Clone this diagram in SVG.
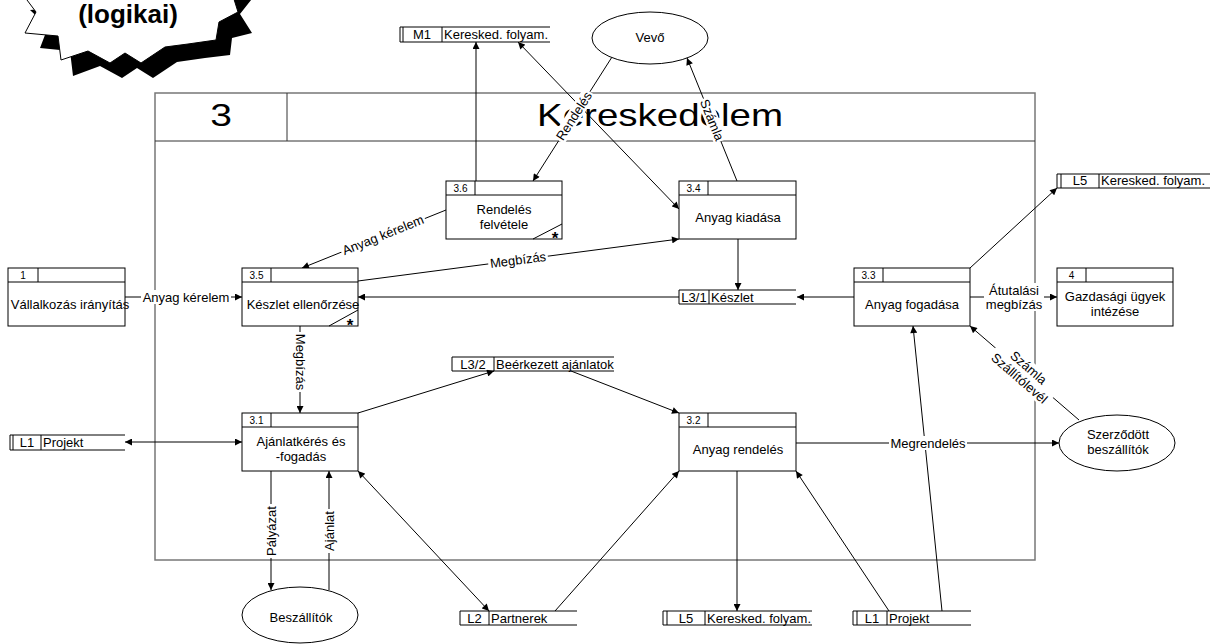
<svg xmlns="http://www.w3.org/2000/svg" width="1216" height="644" viewBox="0 0 1216 644">
  <style>
    .box{fill:#fff;stroke:#000;stroke-width:1}
    .ln{fill:none;stroke:#000;stroke-width:1}
    .fr{fill:none;stroke:#777;stroke-width:1.5}
    .t{font-family:"Liberation Sans",Arial,sans-serif;font-size:13px;fill:#000}
    .n{font-family:"Liberation Sans",Arial,sans-serif;font-size:10px;fill:#000}
    .ast{font-family:"Liberation Sans",Arial,sans-serif;font-size:17px;font-weight:bold;fill:#000}
    .c{text-anchor:middle}
    .bg{fill:#fff}
  </style>
  <defs>
    <marker id="ah" viewBox="0 0 10 10" refX="10" refY="5" markerWidth="8" markerHeight="7" markerUnits="userSpaceOnUse" orient="auto-start-reverse">
      <path d="M0,0 L10,5 L0,10 z" fill="#000"/>
    </marker>
  </defs>
  <rect width="1216" height="644" fill="#fff"/>

  <!-- starburst badge with drop shadow -->
  <g id="logikai">
    <polygon fill="#000" points="30,10 48,27 40,48 70,51 73,76 100,66 122,78 137,68 153,78 177,62 205,58 230,55 232,38 252,33 240,14 255,-5 225,-5"/>
    <polygon fill="#fff" stroke="#000" stroke-width="1" points="12,-20 36,12 25,33 58,36 61,60 88,51 110,63 125,53 141,63 165,47 188,44 216,40 219,22 238,12 228,-20"/>
    <text x="128" y="23" class="c" font-family="Liberation Sans,Arial,sans-serif" font-size="26" font-weight="bold">(logikai)</text>
  </g>

  <!-- process frame 3 -->
  <g id="frame">
    <rect x="155" y="93" width="880" height="467" class="fr"/>
    <path d="M155,141 H1035 M287,93 V141" stroke="#333" stroke-width="1" fill="none"/>
    <text transform="translate(221,126) scale(1.22,1)" class="c" font-family="Liberation Sans,Arial,sans-serif" font-size="32">3</text>
    <text x="537" y="126" textLength="246" lengthAdjust="spacingAndGlyphs" font-family="Liberation Sans,Arial,sans-serif" font-size="32">Kereskedelem</text>
  </g>

  <!-- data flows -->
  <g id="connectors">
    <path class="ln" d="M476,181 V42" marker-end="url(#ah)"/>
    <path class="ln" d="M518,42 L679,209" marker-start="url(#ah)" marker-end="url(#ah)"/>
    <path class="ln" d="M612,57 L533,181" marker-end="url(#ah)"/>
    <path class="ln" d="M737,181 L687,58" marker-end="url(#ah)"/>
    <path class="ln" d="M446,210 L302,268" marker-end="url(#ah)"/>
    <path class="ln" d="M358,281 L679,239" marker-end="url(#ah)"/>
    <path class="ln" d="M125,297 H242" marker-end="url(#ah)"/>
    <path class="ln" d="M679,297 H358" marker-end="url(#ah)"/>
    <path class="ln" d="M738,239 V290" marker-end="url(#ah)"/>
    <path class="ln" d="M854,297 H797" marker-end="url(#ah)"/>
    <path class="ln" d="M970,268 L1057,188" marker-end="url(#ah)"/>
    <path class="ln" d="M970,297 H1057" marker-end="url(#ah)"/>
    <path class="ln" d="M1079,420 L970,326" marker-end="url(#ah)"/>
    <path class="ln" d="M796,443 H1059" marker-end="url(#ah)"/>
    <path class="ln" d="M300,326 V413" marker-end="url(#ah)"/>
    <path class="ln" d="M358,413 L494,371" marker-end="url(#ah)"/>
    <path class="ln" d="M571,371 L679,413" marker-end="url(#ah)"/>
    <path class="ln" d="M125,442 H242" marker-start="url(#ah)" marker-end="url(#ah)"/>
    <path class="ln" d="M271,471 V590" marker-end="url(#ah)"/>
    <path class="ln" d="M329,590 V471" marker-end="url(#ah)"/>
    <path class="ln" d="M358,471 L489,611" marker-start="url(#ah)" marker-end="url(#ah)"/>
    <path class="ln" d="M555,611 L679,471" marker-end="url(#ah)"/>
    <path class="ln" d="M737,471 V611" marker-end="url(#ah)"/>
    <path class="ln" d="M889,611 L796,471" marker-end="url(#ah)"/>
    <path class="ln" d="M942,611 L913,326" marker-end="url(#ah)"/>

    <!-- flow labels -->
    <g transform="translate(574,116) rotate(-57.3)"><rect class="bg" x="-29" y="-7" width="58" height="14"/><text class="t c" y="4.5">Rendelés</text></g>
    <g transform="translate(712,120) rotate(67.9)"><rect class="bg" x="-23" y="-7" width="46" height="14"/><text class="t c" y="4.5">Számla</text></g>
    <g transform="translate(383,235) rotate(-21.9)"><rect class="bg" x="-45" y="-7" width="90" height="14"/><text class="t c" y="4.5">Anyag kérelem</text></g>
    <g transform="translate(518,260) rotate(-7.45)"><rect class="bg" x="-30" y="-7" width="60" height="14"/><text class="t c" y="4.5">Megbízás</text></g>
    <g transform="translate(186,297)"><rect class="bg" x="-45" y="-7" width="90" height="14"/><text class="t c" y="4.5">Anyag kérelem</text></g>
    <g transform="translate(1014,297)"><rect class="bg" x="-30" y="-14" width="60" height="28"/><text class="t c" y="-2">Átutalási</text><text class="t c" y="12">megbízás</text></g>
    <g transform="translate(1024,373) rotate(40.8)"><rect class="bg" x="-38" y="-14" width="76" height="28"/><text class="t c" y="-2.5">Számla</text><text class="t c" y="11.5">Szállítólevél</text></g>
    <g transform="translate(928,443)"><rect class="bg" x="-39" y="-7" width="78" height="14"/><text class="t c" y="4.5">Megrendelés</text></g>
    <g transform="translate(300,362) rotate(90)"><rect class="bg" x="-30" y="-7" width="60" height="14"/><text class="t c" y="4.5">Megbízás</text></g>
    <g transform="translate(271,531) rotate(-90)"><rect class="bg" x="-27" y="-7" width="54" height="14"/><text class="t c" y="4.5">Pályázat</text></g>
    <g transform="translate(329,531) rotate(-90)"><rect class="bg" x="-22" y="-7" width="44" height="14"/><text class="t c" y="4.5">Ajánlat</text></g>
  </g>

  <!-- external entities -->
  <g id="vevo">
    <ellipse cx="650" cy="38" rx="58" ry="26" class="box"/>
    <text x="650" y="42" class="t c">Vevő</text>
  </g>
  <g id="beszallitok">
    <ellipse cx="300" cy="615" rx="58" ry="28" class="box"/>
    <text x="301" y="622" class="t c">Beszállítók</text>
  </g>
  <g id="szerzodott">
    <ellipse cx="1117" cy="443" rx="58" ry="28" class="box"/>
    <text x="1118" y="439" class="t c">Szerződött</text>
    <text x="1118" y="454" class="t c">beszállítók</text>
  </g>

  <!-- processes -->
  <g id="p1">
    <rect x="8" y="268" width="117" height="58" class="box"/>
    <path class="ln" d="M8,282 H125 M38,268 V282"/>
    <text x="23" y="279" class="n c">1</text>
    <text x="70" y="308.5" class="t c">Vállalkozás irányítás</text>
  </g>
  <g id="p35">
    <rect x="242" y="268" width="116" height="58" class="box"/>
    <path class="ln" d="M242,282 H358 M271,268 V282 M329,326 L358,310"/>
    <text x="256.5" y="279" class="n c">3.5</text>
    <text x="303" y="308.5" class="t c">Készlet ellenőrzése</text>
    <text x="350" y="331" class="ast c">*</text>
  </g>
  <g id="p36">
    <rect x="446" y="181" width="116" height="58" class="box"/>
    <path class="ln" d="M446,195 H562 M475,181 V195 M533,239 L562,224"/>
    <text x="460.5" y="192" class="n c">3.6</text>
    <text x="504" y="214" class="t c">Rendelés</text>
    <text x="504" y="229" class="t c">felvétele</text>
    <text x="555" y="244" class="ast c">*</text>
  </g>
  <g id="p34">
    <rect x="679" y="181" width="117" height="58" class="box"/>
    <path class="ln" d="M679,195 H796 M708,181 V195"/>
    <text x="693.5" y="192" class="n c">3.4</text>
    <text x="738" y="221.5" class="t c">Anyag kiadása</text>
  </g>
  <g id="p33">
    <rect x="854" y="268" width="116" height="58" class="box"/>
    <path class="ln" d="M854,282 H970 M883,268 V282"/>
    <text x="868.5" y="279" class="n c">3.3</text>
    <text x="912" y="308.5" class="t c">Anyag fogadása</text>
  </g>
  <g id="p4">
    <rect x="1057" y="268" width="116" height="58" class="box"/>
    <path class="ln" d="M1057,282 H1173 M1086,268 V282"/>
    <text x="1071.5" y="279" class="n c">4</text>
    <text x="1115" y="300.5" class="t c">Gazdasági ügyek</text>
    <text x="1115" y="315.5" class="t c">intézése</text>
  </g>
  <g id="p31">
    <rect x="242" y="413" width="116" height="58" class="box"/>
    <path class="ln" d="M242,427 H358 M271,413 V427"/>
    <text x="256.5" y="424" class="n c">3.1</text>
    <text x="301" y="446" class="t c">Ajánlatkérés és</text>
    <text x="301" y="461" class="t c">-fogadás</text>
  </g>
  <g id="p32">
    <rect x="679" y="413" width="117" height="58" class="box"/>
    <path class="ln" d="M679,427 H796 M708,413 V427"/>
    <text x="693.5" y="424" class="n c">3.2</text>
    <text x="738" y="453.5" class="t c">Anyag rendelés</text>
  </g>

  <!-- data stores -->
  <g id="m1">
    <path class="ln" d="M400,27 H550 M400,42 H550 M400,27 V42 M403,27 V42 M442,27 V42"/>
    <text x="422" y="39" class="t c">M1</text>
    <text x="444" y="39" class="t">Keresked. folyam.</text>
  </g>
  <g id="l5top">
    <path class="ln" d="M1057,174 H1210 M1057,188 H1210 M1057,174 V188 M1061,174 V188 M1099,174 V188"/>
    <text x="1080" y="185" class="t c">L5</text>
    <text x="1101" y="185" class="t">Keresked. folyam.</text>
  </g>
  <g id="l31">
    <path class="ln" d="M679,290 H796 M679,304 H796 M679,290 V304 M709,290 V304"/>
    <text x="694" y="301.5" class="t c">L3/1</text>
    <text x="711" y="301.5" class="t">Készlet</text>
  </g>
  <g id="l32">
    <path class="ln" d="M452,357 H614 M452,371 H614 M452,357 V371 M494,357 V371"/>
    <text x="473" y="368.5" class="t c">L3/2</text>
    <text x="496" y="368.5" class="t">Beérkezett ajánlatok</text>
  </g>
  <g id="l1left">
    <path class="ln" d="M10,435 H125 M10,450 H125 M10,435 V450 M13,435 V450 M41,435 V450"/>
    <text x="27" y="447" class="t c">L1</text>
    <text x="43" y="447" class="t">Projekt</text>
  </g>
  <g id="l2">
    <path class="ln" d="M460,611 H577 M460,625 H577 M460,611 V625 M489,611 V625"/>
    <text x="474.5" y="622.5" class="t c">L2</text>
    <text x="491" y="622.5" class="t">Partnerek</text>
  </g>
  <g id="l5bottom">
    <path class="ln" d="M663,611 H812 M663,625 H812 M663,611 V625 M667,611 V625 M705,611 V625"/>
    <text x="686" y="622.5" class="t c">L5</text>
    <text x="707" y="622.5" class="t">Keresked. folyam.</text>
  </g>
  <g id="l1bottom">
    <path class="ln" d="M853,611 H971 M853,625 H971 M853,611 V625 M857,611 V625 M887,611 V625"/>
    <text x="872" y="622.5" class="t c">L1</text>
    <text x="889" y="622.5" class="t">Projekt</text>
  </g>
</svg>
